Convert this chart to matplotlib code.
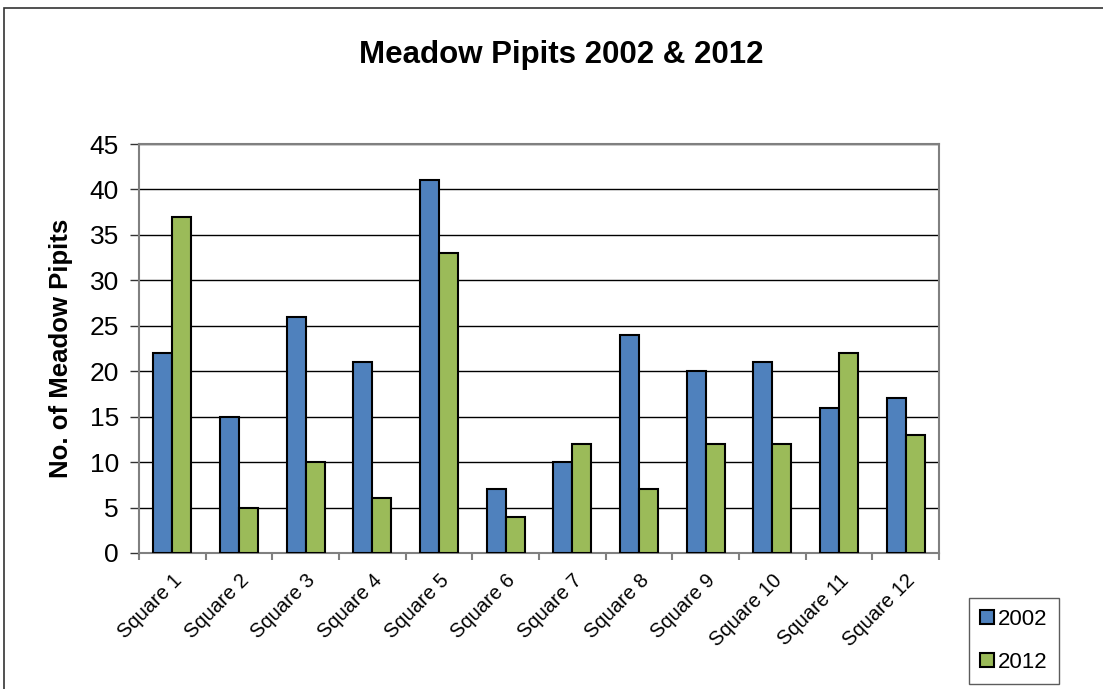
import matplotlib
matplotlib.use("Agg")
import matplotlib.pyplot as plt
from matplotlib.patches import Rectangle
import numpy as np

plt.rcParams['font.family'] = ['Liberation Sans', 'DejaVu Sans']

categories = ["Square 1", "Square 2", "Square 3", "Square 4", "Square 5", "Square 6",
              "Square 7", "Square 8", "Square 9", "Square 10", "Square 11", "Square 12"]
counts_2002 = [22, 15, 26, 21, 41, 7, 10, 24, 20, 21, 16, 17]
counts_2012 = [37, 5, 10, 6, 33, 4, 12, 7, 12, 12, 22, 13]
series_labels = ["2002", "2012"]
y_ticks = [0, 5, 10, 15, 20, 25, 30, 35, 40, 45]

W, H = 1103, 689
fig = plt.figure(figsize=(W / 100, H / 100), dpi=100)
fig.patch.set_facecolor("white")

# outer chart frame
fig.add_artist(Rectangle((4 / W, -0.05), 1.1, (H - 8) / H + 0.05,
                         transform=fig.transFigure, fill=False,
                         edgecolor="#333333", linewidth=1.2))

ax = fig.add_axes([139 / W, (H - 553) / H, 800 / W, 409 / H])

x = np.arange(len(categories))
w = 0.285
ax.bar(x - w / 2, counts_2002, width=w, color="#4F81BD", edgecolor="black",
       linewidth=1.5, label=series_labels[0], zorder=3)
ax.bar(x + w / 2, counts_2012, width=w, color="#9BBB59", edgecolor="black",
       linewidth=1.5, label=series_labels[1], zorder=3)

ax.set_xlim(-0.5, len(categories) - 0.5)
ax.set_ylim(0, 45)
ax.set_yticks(y_ticks)
ax.set_yticklabels([str(v) for v in y_ticks], fontsize=19)
ax.yaxis.grid(True, color="black", linewidth=1.0, zorder=0)
ax.set_axisbelow(True)

ax.set_xticks(np.arange(len(categories) + 1) - 0.5, minor=False)
ax.set_xticklabels([])
ax.set_xticks(x, minor=True)
ax.set_xticklabels(categories, minor=True, rotation=45, ha="right",
                   rotation_mode="anchor", fontsize=14.5)
ax.tick_params(axis="x", which="minor", length=0, pad=13)
ax.tick_params(axis="x", which="major", length=5, color="#808080", width=1.5)
ax.tick_params(axis="y", length=6.5, color="#333333", width=1.0, pad=8)

for side in ["left", "bottom", "top", "right"]:
    ax.spines[side].set_color("#808080")
    ax.spines[side].set_linewidth(1.5)

ax.set_ylabel("No. of Meadow Pipits", fontsize=18.5, fontweight="bold", labelpad=12)
fig.text(561 / W, 1 - 55 / H, "Meadow Pipits 2002 & 2012", ha="center", va="center",
         fontsize=22.5, fontweight="bold")

leg = fig.legend(loc="center", bbox_to_anchor=(1014 / W, 1 - 641 / H),
                 fontsize=16, frameon=True, fancybox=False, edgecolor="#333333",
                 handlelength=0.6, handleheight=0.6, handletextpad=0.2,
                 labelspacing=1.0, borderpad=0.5, borderaxespad=0)
leg.get_frame().set_linewidth(1.0)
for h in leg.legend_handles:
    h.set_linewidth(1.5)

fig.savefig("out.png", dpi=100, facecolor="white")
